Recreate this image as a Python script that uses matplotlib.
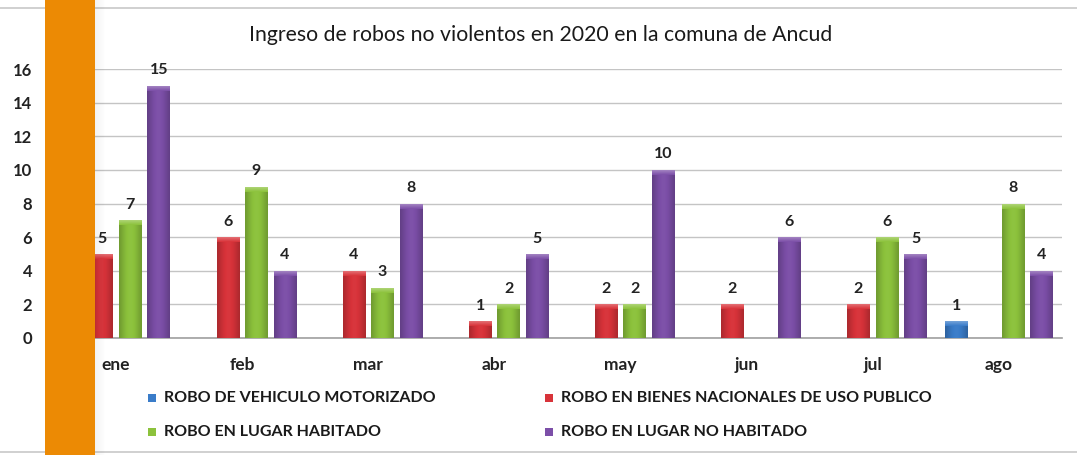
import matplotlib

matplotlib.use("Agg")
import matplotlib.pyplot as plt
import numpy as np
from matplotlib.colors import to_rgb
from matplotlib.patches import Rectangle

plt.rcParams["font.family"] = ["Lato", "DejaVu Sans"]

MONTHS = ["ene", "feb", "mar", "abr", "may", "jun", "jul", "ago"]
SERIES = [
    "ROBO DE VEHICULO MOTORIZADO",
    "ROBO EN BIENES NACIONALES DE USO PUBLICO",
    "ROBO EN LUGAR HABITADO",
    "ROBO EN LUGAR NO HABITADO",
]
vehiculo = [0, 0, 0, 0, 0, 0, 0, 1]
bienes_nacionales = [5, 6, 4, 1, 2, 2, 2, 0]
lugar_habitado = [7, 9, 3, 2, 2, 0, 6, 8]
lugar_no_habitado = [15, 4, 8, 5, 10, 6, 5, 4]
COLORS = ["#3a7cc9", "#d8333a", "#8cc23c", "#7c4fa8"]

TITLE = "Ingreso de robos no violentos en 2020 en la comuna de Ancud"
ORANGE = "#ec8a04"
GRID_COLOR = "#c4c4c4"


def shade(color, factor):
    r, g, b = to_rgb(color)
    if factor >= 0:
        return (r + (1 - r) * factor, g + (1 - g) * factor, b + (1 - b) * factor)
    return (r * (1 + factor), g * (1 + factor), b * (1 + factor))


def cylinder_bar(ax, x, height, width, color):
    patch = ax.bar(x, height, width, color=color, linewidth=0, zorder=3)[0]
    # horizontal gradient: darker edges, lighter middle
    steps = np.linspace(0, 1, 40)
    profile = 0.22 * np.sin(np.pi * steps) ** 1.2 - 0.2
    row = np.array([shade(color, f) for f in profile])[None, :, :]
    img = ax.imshow(row, extent=(x - width / 2, x + width / 2, 0, height),
                    aspect="auto", zorder=4, interpolation="bilinear")
    img.set_clip_path(patch)
    # soft highlight at the top of the bar
    cap = min(0.3, height * 0.3)
    col = np.array([shade(color, f) for f in np.linspace(0.35, 0.0, 12)])[:, None, :]
    top = ax.imshow(col, extent=(x - width / 2, x + width / 2, height - cap, height),
                    aspect="auto", zorder=5, interpolation="bilinear", origin="upper")
    top.set_clip_path(patch)
    return patch


fig = plt.figure(figsize=(10.77, 4.55), dpi=100)

# page decoration: orange strip with soft shadow, thin frame lines
fig.add_artist(plt.Line2D([0, 1], [1 - 8 / 455, 1 - 8 / 455], color="#c8c8c8", lw=1.2, zorder=0))
fig.add_artist(plt.Line2D([0, 1], [1 - 452 / 455, 1 - 452 / 455], color="#c8c8c8", lw=1.2, zorder=0))
for i in range(10):
    fig.add_artist(Rectangle((95 / 1077 + i / 1077, 0), 1 / 1077, 1,
                             color="#000000", alpha=0.05 * (1 - i / 10), lw=0,
                             transform=fig.transFigure, zorder=1))

ax = fig.add_axes([53 / 1077, 1 - 338 / 455, (1062 - 53) / 1077, (338 - 69) / 455])
ax.set_facecolor("none")

x = np.arange(len(MONTHS))
slot = 0.226
bar_w = 0.18
for k, (values, color) in enumerate(zip([vehiculo, bienes_nacionales, lugar_habitado, lugar_no_habitado], COLORS)):
    offset = (k - 1.5) * slot
    for xi, v in zip(x, values):
        if v == 0:
            continue
        cylinder_bar(ax, xi + offset, v, bar_w, color)
        ax.text(xi + offset, v + 0.5, str(v), ha="center", va="bottom",
                fontsize=11.5, fontweight="bold", color="#222222", zorder=6)

ax.set_xlim(-0.5, 7.5)
ax.set_ylim(0, 16)
ax.set_yticks(range(0, 17, 2))
ax.set_xticks(x)
ax.set_xticklabels(MONTHS)
ax.tick_params(axis="y", length=0, labelsize=12, colors="#222222", pad=15)
ax.tick_params(axis="x", length=0, labelsize=12.5, colors="#222222", pad=14)
for label in ax.get_xticklabels() + ax.get_yticklabels():
    label.set_fontweight("bold")
ax.grid(axis="y", color=GRID_COLOR, lw=1.0, zorder=0)
ax.set_axisbelow(True)
for side in ["top", "right", "left"]:
    ax.spines[side].set_visible(False)
ax.spines["bottom"].set_color("#a0a0a0")
ax.spines["bottom"].set_linewidth(1.2)

fig.text(541 / 1077, 1 - 35 / 455, TITLE, ha="center", va="center", fontsize=15.3, color="#1a1a1a")

# orange strip drawn on top of the gridlines' left end
fig.add_artist(Rectangle((45 / 1077, 0), 50 / 1077, 1, color=ORANGE, lw=0,
                         transform=fig.transFigure, zorder=2))

# legend
legend_pos = [(152, 398), (549, 398), (152, 432), (549, 432)]
for (px, py), name, color in zip(legend_pos, SERIES, COLORS):
    fx, fy = px / 1077, 1 - py / 455
    fig.add_artist(Rectangle((fx - 4 / 1077, fy - 4 / 455), 8 / 1077, 8 / 455,
                             color=color, lw=0, transform=fig.transFigure))
    fig.text(fx + 12 / 1077, fy, name, ha="left", va="center", fontsize=11.5,
             fontweight="bold", color="#1a1a1a")

fig.savefig("out.png", dpi=100)
